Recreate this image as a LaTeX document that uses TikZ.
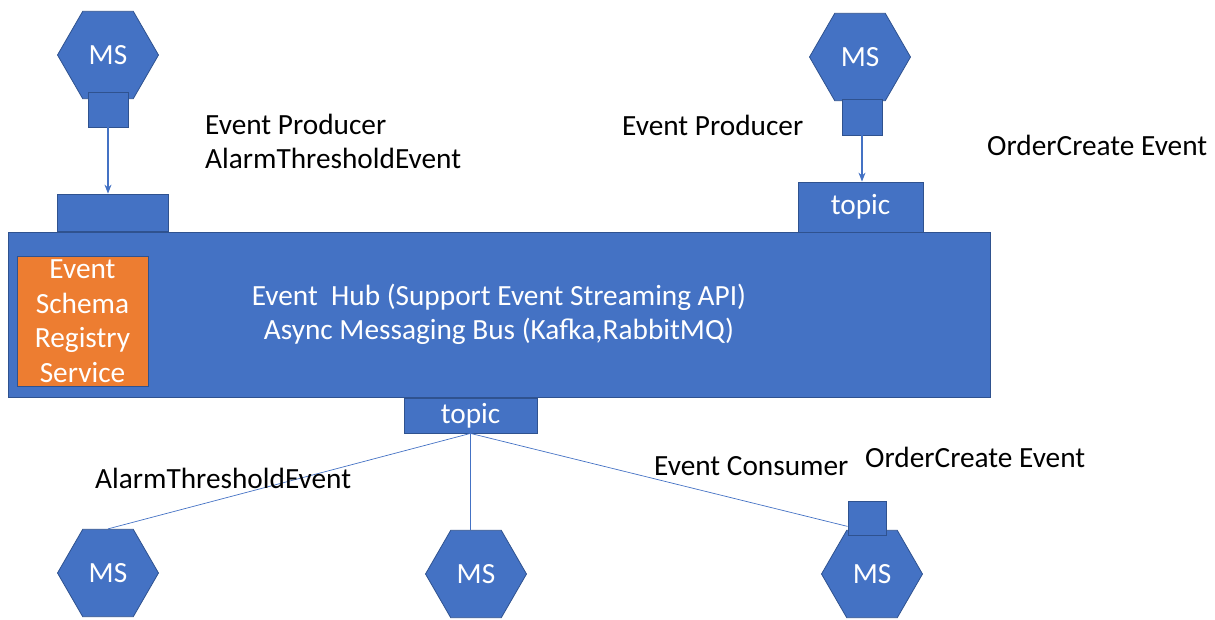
\documentclass[tikz,border=0pt]{standalone}
\usepackage{fontspec}
\setmainfont{Carlito}
\usetikzlibrary{shapes.geometric,arrows.meta,calc}
\definecolor{msblue}{HTML}{4472C4}
\definecolor{msedge}{HTML}{2F528F}
\definecolor{msorange}{HTML}{ED7D31}
\tikzset{
  txt/.style={font=\fontsize{29.3}{34.5}\selectfont},
  hexa/.style={regular polygon, regular polygon sides=6,
    minimum size=101pt, inner sep=0pt, fill=msblue, draw=msedge, line width=0.8pt,
    text=white, txt},
  port/.style={rectangle, fill=msblue, draw=msedge, line width=0.8pt, inner sep=0pt,
    text=white, txt},
  label/.style={txt, text=black, inner sep=0pt, align=left},
  wire/.style={draw=msblue, line width=0.7pt},
  feed/.style={draw=msblue, line width=1.1pt, -{Stealth[length=9pt,width=7pt]}},
}
\begin{document}
\begin{tikzpicture}[x=1pt,y=-1pt]
\useasboundingbox (0,0) rectangle (1215,619);

% message bus
\node[port, minimum width=982pt, minimum height=165pt, align=center] (hub) at (499,314.5)
  {Event\ \ Hub (Support Event Streaming API)\\Async Messaging Bus (Kafka,RabbitMQ)};
\node[rectangle, fill=msorange, draw=msedge, line width=0.8pt, minimum width=131pt,
      minimum height=130pt, inner sep=0pt, text=white, align=center, txt] (reg) at (82.5,321)
  {Event\\Schema\\Registry\\Service};

% ports on the bus
\node[port, minimum width=111pt, minimum height=37pt] (in1) at (112.5,212.5) {};
\node[port, minimum width=125pt, minimum height=50pt] (in2) at (860.5,207) {topic};
\node[port, minimum width=133pt, minimum height=35pt] (out) at (470.5,415.5) {topic};

% producers
\node[hexa] (p1) at (108,55) {MS};
\node[port, minimum width=40pt, minimum height=35pt] (p1s) at (108,109.5) {};
\node[hexa] (p2) at (860,57) {MS};
\node[port, minimum width=40pt, minimum height=36pt] (p2s) at (862,117) {};

% consumers
\node[hexa] (c1) at (108,573) {MS};
\node[hexa] (c2) at (476,574) {MS};
\node[hexa] (c3) at (872,574) {MS};
\node[port, minimum width=38pt, minimum height=34pt] (c3s) at (867,518) {};

% connectors
\draw[feed] (p1s.south) -- (p1s.south |- in1.north);
\draw[feed] (p2s.south) -- (p2s.south |- in2.north);
\draw[wire] (out.south) -- (c1.north);
\draw[wire] (out.south) -- (out.south |- c2.north);
\draw[wire] (out.south) -- ($(c3s.south west)+(0,-9)$);

% labels
\node[label, anchor=west] (lp1) at (205,141.5) {Event Producer\\AlarmThresholdEvent};
\node[label, anchor=west] (lp2) at (622,125) {Event Producer};
\node[label, anchor=west] (le2) at (987,145) {OrderCreate Event};
\node[label, anchor=west] (lc1) at (95,478) {AlarmThresholdEvent};
\node[label, anchor=west] (lc3) at (654,466) {Event Consumer};
\node[label, anchor=west] (le3) at (865,457) {OrderCreate Event};
\end{tikzpicture}
\end{document}
